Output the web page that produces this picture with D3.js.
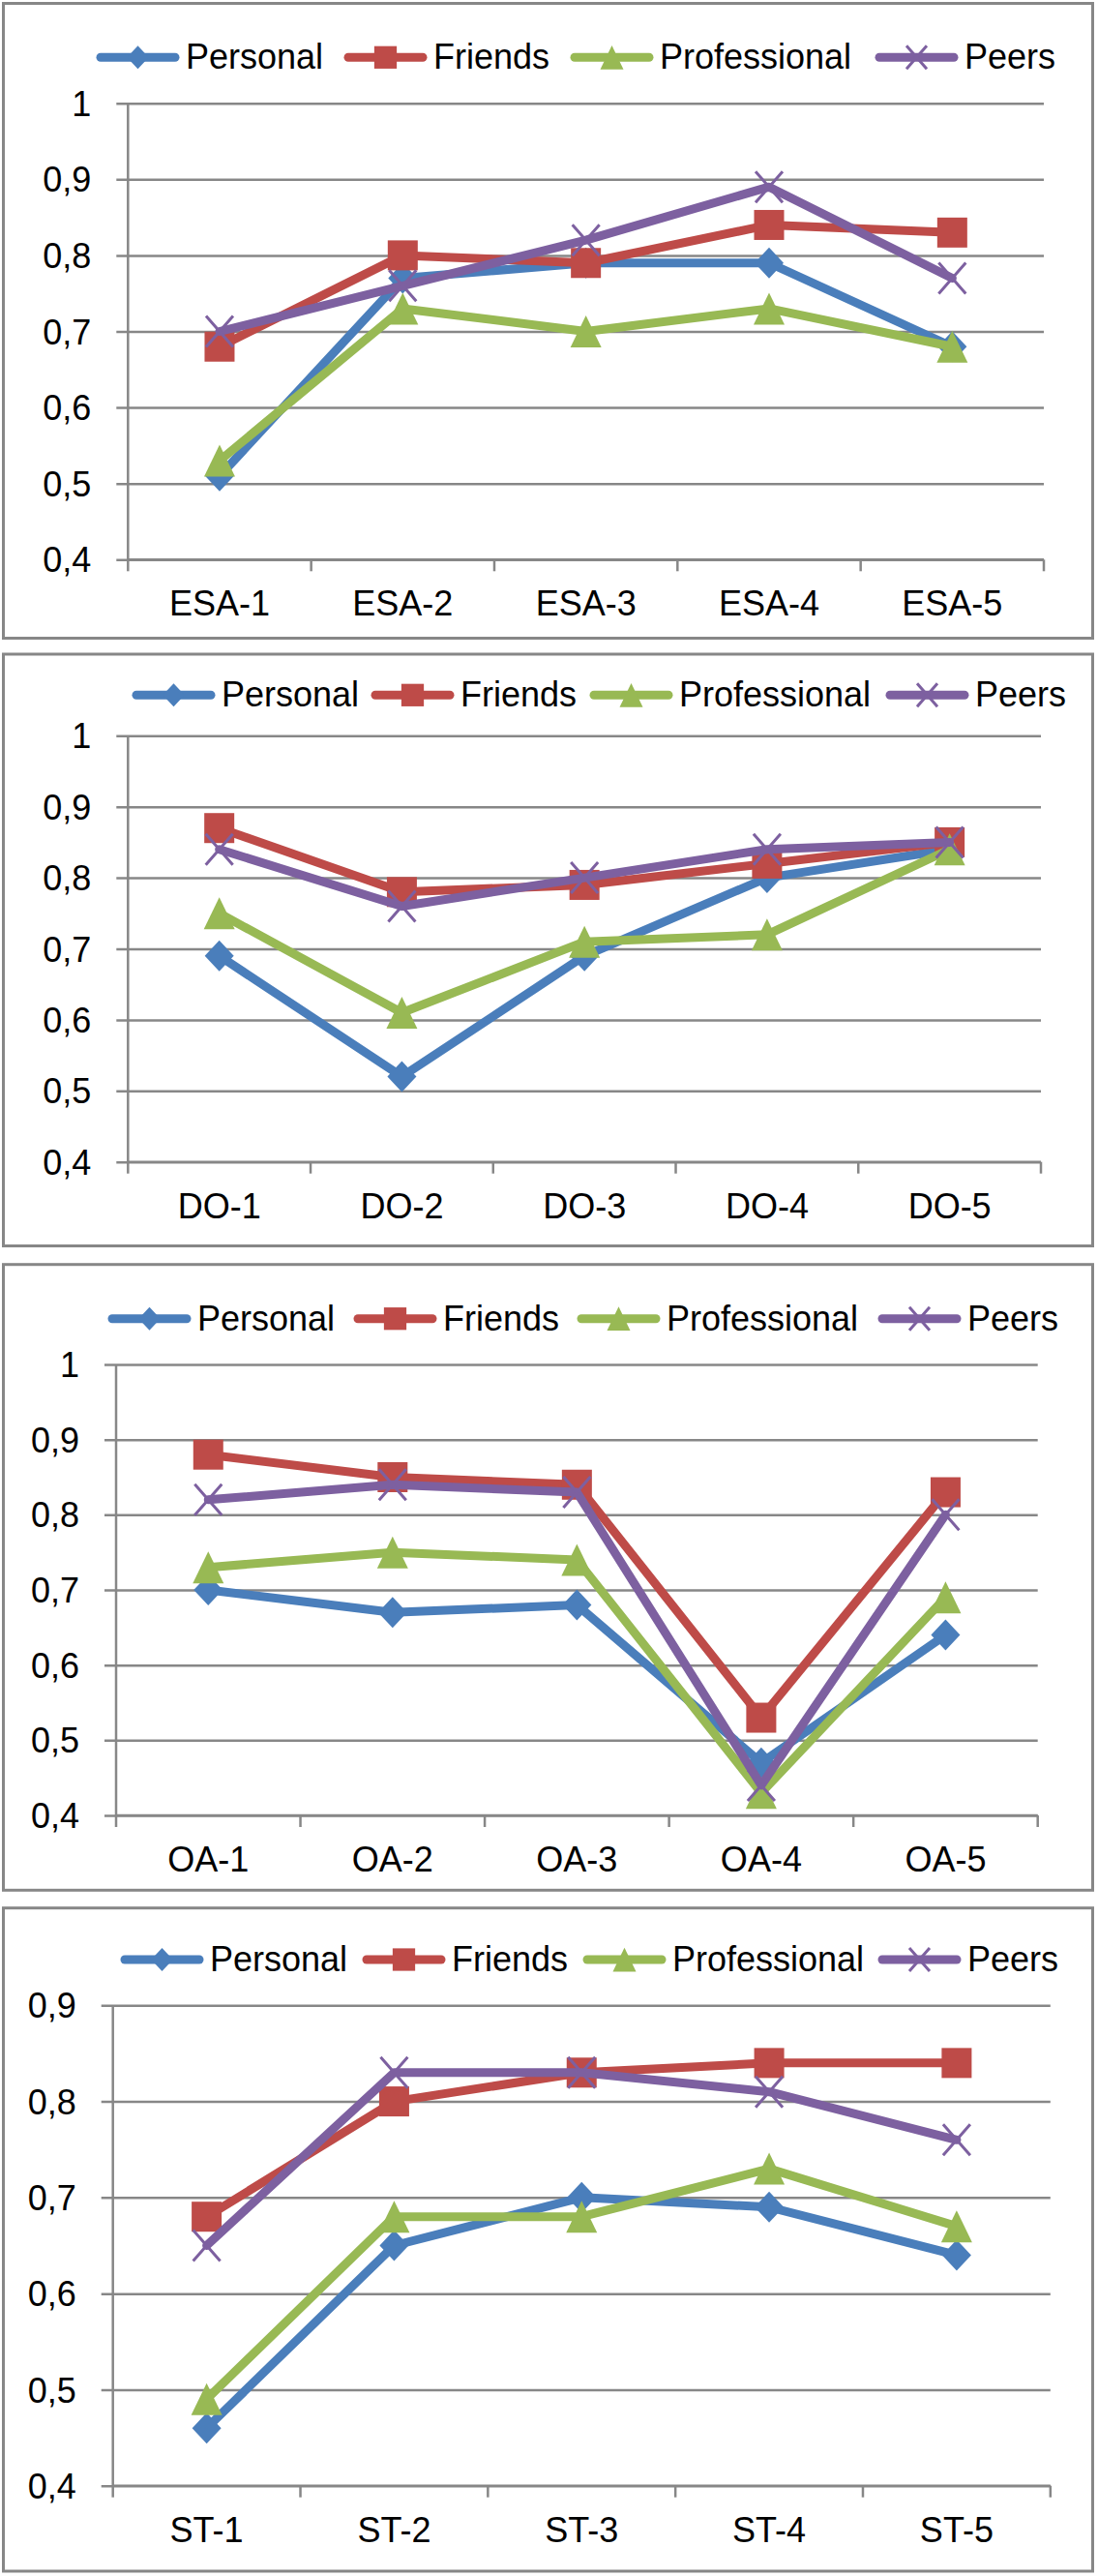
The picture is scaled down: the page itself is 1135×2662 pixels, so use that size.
<!DOCTYPE html>
<html>
<head>
<meta charset="utf-8">
<script src="https://cdn.jsdelivr.net/npm/d3@7"></script>
<style>
  html, body { margin: 0; padding: 0; background: #fff; }
  svg text { font-family: "Liberation Sans", Arial, sans-serif; fill: #000; }
</style>
</head>
<body>
<svg id="chart" width="1135" height="2662"></svg>
<script>
// ---------- DATA ----------
const seriesNames = ["Personal", "Friends", "Professional", "Peers"];

const esaCategories = ["ESA-1", "ESA-2", "ESA-3", "ESA-4", "ESA-5"];
const esaPersonal     = [0.51, 0.77, 0.79, 0.79, 0.68];
const esaFriends      = [0.68, 0.80, 0.79, 0.84, 0.83];
const esaProfessional = [0.53, 0.73, 0.70, 0.73, 0.68];
const esaPeers        = [0.70, 0.76, 0.82, 0.89, 0.77];

const doCategories = ["DO-1", "DO-2", "DO-3", "DO-4", "DO-5"];
const doPersonal     = [0.69, 0.52, 0.69, 0.80, 0.84];
const doFriends      = [0.87, 0.78, 0.79, 0.82, 0.85];
const doProfessional = [0.75, 0.61, 0.71, 0.72, 0.84];
const doPeers        = [0.84, 0.76, 0.80, 0.84, 0.85];

const oaCategories = ["OA-1", "OA-2", "OA-3", "OA-4", "OA-5"];
const oaPersonal     = [0.70, 0.67, 0.68, 0.47, 0.64];
const oaFriends      = [0.88, 0.85, 0.84, 0.53, 0.83];
const oaProfessional = [0.73, 0.75, 0.74, 0.43, 0.69];
const oaPeers        = [0.82, 0.84, 0.83, 0.44, 0.80];

const stCategories = ["ST-1", "ST-2", "ST-3", "ST-4", "ST-5"];
const stPersonal     = [0.46, 0.65, 0.70, 0.69, 0.64];
const stFriends      = [0.68, 0.80, 0.83, 0.84, 0.84];
const stProfessional = [0.49, 0.68, 0.68, 0.73, 0.67];
const stPeers        = [0.65, 0.83, 0.83, 0.81, 0.76];

const yTicksFull  = [0.4, 0.5, 0.6, 0.7, 0.8, 0.9, 1];
const yTicksShort = [0.4, 0.5, 0.6, 0.7, 0.8, 0.9];

// ---------- LAYOUT / STYLE ----------
const colors = ["#4A7EBB", "#BE4B48", "#98B954", "#7D60A0"];
const markerTypes = ["diamond", "square", "triangle", "x"];

const panels = [
  { cats: esaCategories, series: [esaPersonal, esaFriends, esaProfessional, esaPeers], ticks: yTicksFull,
    box: [3.5, 3.5, 1129.5, 659.5], x0: 132.3, x1: 1079, yTop: 106.7, yBot: 578.3,
    legendY: 59.3, legendX: [100, 356, 590, 905] },
  { cats: doCategories, series: [doPersonal, doFriends, doProfessional, doPeers], ticks: yTicksFull,
    box: [3.5, 676, 1129.5, 1287.5], x0: 132.3, x1: 1076, yTop: 760.3, yBot: 1200.7,
    legendY: 718.3, legendX: [137, 384, 610, 916] },
  { cats: oaCategories, series: [oaPersonal, oaFriends, oaProfessional, oaPeers], ticks: yTicksFull,
    box: [3.5, 1306.7, 1129.5, 1953.3], x0: 120, x1: 1072.7, yTop: 1410, yBot: 1876,
    legendY: 1362.7, legendX: [112, 366, 597, 908] },
  { cats: stCategories, series: [stPersonal, stFriends, stProfessional, stPeers], ticks: yTicksShort,
    box: [3.5, 1971.7, 1129.5, 2657], x0: 116.7, x1: 1085.8, yTop: 2072.3, yBot: 2568.7,
    legendY: 2025, legendX: [125, 375, 603, 908] }
];

const gridColor = "#878787";
const fmt = d3.formatLocale({ decimal: ",", thousands: ".", grouping: [3], currency: ["", ""] }).format("~g");

const svg = d3.select("#chart");

function drawMarker(g, type, color, s) {
  if (type === "diamond") {
    g.append("path").attr("d", `M0,${-16*s} L${15*s},0 L0,${16*s} L${-15*s},0 Z`).attr("fill", color);
  } else if (type === "square") {
    g.append("rect").attr("x", -15.5*s).attr("y", -15.5*s).attr("width", 31*s).attr("height", 31*s).attr("fill", color);
  } else if (type === "triangle") {
    g.append("path").attr("d", `M0,${-16.5*s} L${16*s},${16.5*s} L${-16*s},${16.5*s} Z`).attr("fill", color);
  } else {
    g.append("path").attr("d", `M${-14*s},${-16*s} L${14*s},${16*s} M${14*s},${-16*s} L${-14*s},${16*s}`)
      .attr("stroke", color).attr("stroke-width", 3).attr("fill", "none");
  }
}

panels.forEach(p => {
  const g = svg.append("g");
  const ymin = p.ticks[0], ymax = p.ticks[p.ticks.length - 1];

  // border
  g.append("rect")
    .attr("x", p.box[0]).attr("y", p.box[1])
    .attr("width", p.box[2] - p.box[0]).attr("height", p.box[3] - p.box[1])
    .attr("fill", "#fff").attr("stroke", gridColor).attr("stroke-width", 3);

  const x = d3.scaleBand().domain(p.cats).range([p.x0, p.x1]);
  const y = d3.scaleLinear().domain([ymin, ymax]).range([p.yBot, p.yTop]);
  const cx = c => x(c) + x.bandwidth() / 2;

  // gridlines with outer tick (y axis)
  const yAxis = d3.axisLeft(y).tickValues(p.ticks).tickFormat(fmt)
    .tickSizeInner(-(p.x1 - p.x0)).tickSizeOuter(0).tickPadding(0);
  const ya = g.append("g").attr("transform", `translate(${p.x0},0)`).call(yAxis);
  ya.select(".domain").remove();
  ya.selectAll(".tick line").attr("stroke", gridColor).attr("stroke-width", 2.5)
    .attr("x1", -12);
  ya.selectAll(".tick text")
    .attr("x", -38).attr("dy", "0.35em")
    .style("font-size", "36px").attr("fill", "#000");

  // vertical axis line
  g.append("line").attr("x1", p.x0).attr("x2", p.x0).attr("y1", p.yTop).attr("y2", p.yBot)
    .attr("stroke", gridColor).attr("stroke-width", 2.5);

  // x axis with category boundary ticks
  const xAxis = d3.axisBottom(x).tickSize(0).tickPadding(0).tickSizeOuter(0);
  const xa = g.append("g").attr("transform", `translate(0,${p.yBot})`).call(xAxis);
  xa.select(".domain").remove();
  xa.selectAll(".tick text").attr("y", 58).attr("dy", 0)
    .style("font-size", "36px").attr("fill", "#000");
  g.append("line").attr("x1", p.x0).attr("x2", p.x1).attr("y1", p.yBot).attr("y2", p.yBot)
    .attr("stroke", gridColor).attr("stroke-width", 2.5);
  const bounds = p.cats.map(c => x(c)).concat([p.x1]);
  g.selectAll(".xtick").data(bounds).enter().append("line")
    .attr("x1", d => d).attr("x2", d => d)
    .attr("y1", p.yBot).attr("y2", p.yBot + 12)
    .attr("stroke", gridColor).attr("stroke-width", 2.5);

  // series
  const line = d3.line().x((d, i) => cx(p.cats[i])).y(d => y(d));
  p.series.forEach((vals, si) => {
    const sg = g.append("g");
    sg.append("path").datum(vals).attr("d", line)
      .attr("fill", "none").attr("stroke", colors[si]).attr("stroke-width", 9)
      .attr("stroke-linejoin", "round").attr("stroke-linecap", "round");
    vals.forEach((v, i) => {
      const mg = sg.append("g").attr("transform", `translate(${cx(p.cats[i])},${y(v)})`);
      drawMarker(mg, markerTypes[si], colors[si], 1);
    });
  });

  // legend
  seriesNames.forEach((name, si) => {
    const lx = p.legendX[si];
    const lg = g.append("g");
    lg.append("line").attr("x1", lx + 4).attr("x2", lx + 81)
      .attr("y1", p.legendY).attr("y2", p.legendY)
      .attr("stroke", colors[si]).attr("stroke-width", 9).attr("stroke-linecap", "round");
    const mg = lg.append("g").attr("transform", `translate(${lx + 42.5},${p.legendY})`);
    drawMarker(mg, markerTypes[si], colors[si], 0.75);
    lg.append("text").attr("x", lx + 92).attr("y", p.legendY + 12)
      .style("font-size", "36px").text(name);
  });
});
</script>
</body>
</html>
